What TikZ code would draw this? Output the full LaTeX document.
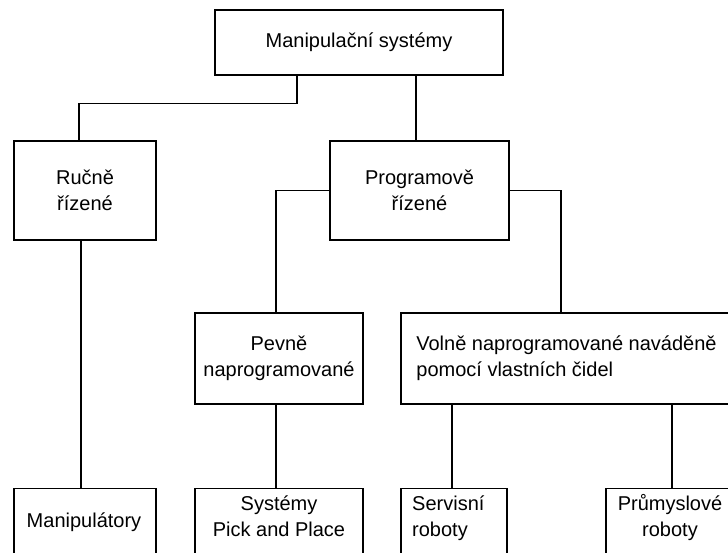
\documentclass[tikz,border=0pt]{standalone}
\usepackage{fontspec}
\setmainfont{Liberation Sans}
\usetikzlibrary{positioning}

\begin{document}
\begin{tikzpicture}[
    x=1pt, y=-1pt,
    every node/.style={font=\fontsize{20}{26}\selectfont},
    box/.style={rectangle, draw=black, line width=1.3pt, align=center, inner sep=0pt},
    txt/.style={align=center, inner sep=0pt},
    link/.style={line width=1.3pt}
  ]
    \path[use as bounding box, fill=white] (0,0) rectangle (728,552);

    % Top level
    \node[box, minimum width=288pt, minimum height=65pt] (sys) at (359,42.5) {Manipulační systémy};

    % Second level
    \node[box, minimum width=142pt, minimum height=99pt] (rucne) at (85,190.5) {Ručně\\řízené};
    \node[box, minimum width=179pt, minimum height=99pt] (prog) at (419.5,190.5) {Programově\\řízené};

    % Third level
    \node[box, minimum width=168pt, minimum height=91pt] (pevne) at (279,358.5) {Pevně\\naprogramované};
    \node[box, align=left, minimum width=331pt, minimum height=91pt] (volne) at (566.5,358.5) {Volně naprogramované naváděně\\pomocí vlastních čidel};

    % Bottom row (boxes run off the page)
    \node[box, anchor=north, minimum width=142pt, minimum height=80pt] (manip) at (85,488) {};
    \node[box, anchor=north, minimum width=168pt, minimum height=80pt] (pick) at (279,488) {};
    \node[box, anchor=north, minimum width=106pt, minimum height=80pt] (servis) at (454,488) {};
    \node[box, anchor=north, minimum width=126pt, minimum height=80pt] (prum) at (669,488) {};

    \node[txt, anchor=base] (manip_t) at (84,527) {Manipulátory};
    \node[txt, anchor=north] (pick_t) at (279,496) {Systémy\\Pick and Place};
    \node[txt, anchor=north west, align=left] (servis_t) at (412,496) {Servisní\\roboty};
    \node[txt, anchor=north] (prum_t) at (670,494) {Průmyslové\\roboty};

    % Connections
    \draw[link] ([xshift=-62pt]sys.south) -- ++(0,28) -| ([xshift=-6pt]rucne.north);
    \draw[link] ([xshift=57pt]sys.south) -- ([xshift=-3.5pt]prog.north);
    \draw[link] (prog.west) -| ([xshift=-3pt]pevne.north);
    \draw[link] (prog.east) -| ([xshift=-5.5pt]volne.north);
    \draw[link] ([xshift=-4pt]rucne.south) -- ([xshift=-4pt]manip.north);
    \draw[link] ([xshift=-3pt]pevne.south) -- ([xshift=-3pt]pick.north);
    \draw[link] ([xshift=-2pt]servis.north) -- ([xshift=-2pt]servis.north |- volne.south);
    \draw[link] ([xshift=3pt]prum.north) -- ([xshift=3pt]prum.north |- volne.south);

  \end{tikzpicture}
\end{document}
